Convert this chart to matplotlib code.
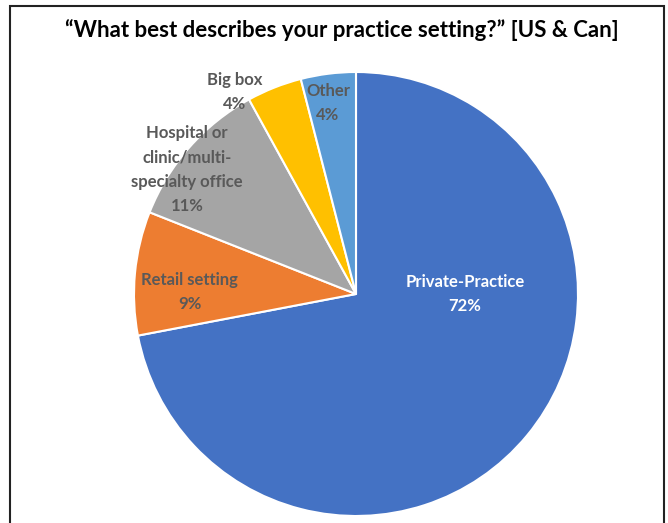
import matplotlib.pyplot as plt
from matplotlib.patches import Rectangle

# practice setting survey, US & Canada
settings = ['Private-Practice', 'Retail setting',
            'Hospital or\nclinic/multi-\nspecialty office', 'Big box', 'Other']
shares = [72, 9, 11, 4, 4]
colors = ['#4472C4', '#ED7D31', '#A5A5A5', '#FFC000', '#5B9BD5']
text_colors = ['white', '#595959', '#595959', '#595959', '#595959']
# label centres in pie units (radius = 1)
label_pos = [(0.49, 0.0), (-0.75, 0.01), (-0.76, 0.56), (-0.545, 0.91), (-0.126, 0.86)]

plt.rcParams['font.family'] = ['Lato', 'DejaVu Sans']

W, H = 668, 523
fig = plt.figure(figsize=(W / 100, H / 100), dpi=100)
cx, cy, r = 356, 294, 222
ax = fig.add_axes([(cx - r) / W, (H - cy - r) / H, 2 * r / W, 2 * r / H])

ax.pie(shares, colors=colors, startangle=90, counterclock=False, radius=1,
       wedgeprops=dict(edgecolor='white', linewidth=1.5))
ax.set_xlim(-1, 1)
ax.set_ylim(-1, 1)
ax.set_aspect('equal')
ax.axis('off')

for name, val, (x, y), tc in zip(settings, shares, label_pos, text_colors):
    ax.text(x, y, f'{name}\n{val}%', ha='center', va='center', color=tc,
            fontsize=12, fontweight='bold', linespacing=1.65)

fig.text(342 / W, 1 - 37 / H, '\u201cWhat best describes your practice setting?\u201d [US & Can]',
         ha='center', va='baseline', fontsize=16, fontweight='bold', color='black')

# frame around the chart area (open at the bottom edge)
fig.patches.append(Rectangle((10 / W, -0.05), (664 - 10) / W, 1.05 - 6 / H,
                             transform=fig.transFigure, fill=False,
                             edgecolor='#222222', linewidth=1.5))

fig.savefig('out.png', dpi=100)
